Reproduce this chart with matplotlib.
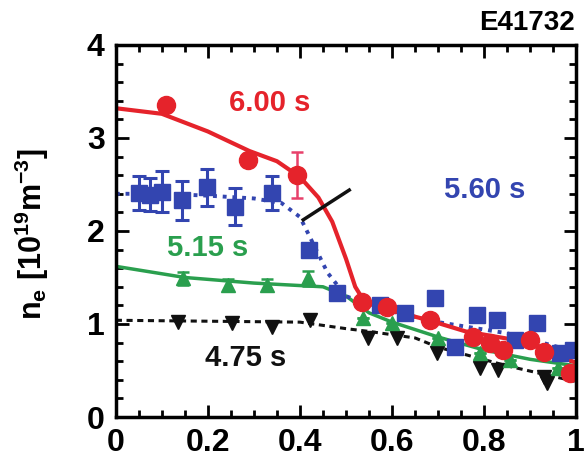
import matplotlib
matplotlib.use("Agg")
import matplotlib.pyplot as plt
from matplotlib.ticker import MultipleLocator

plt.rcParams['font.family'] = ['Liberation Sans', 'DejaVu Sans']
plt.rcParams['font.weight'] = 'bold'
plt.rcParams['mathtext.fontset'] = 'custom'
plt.rcParams['mathtext.rm'] = 'Liberation Sans:bold'
plt.rcParams['mathtext.bf'] = 'Liberation Sans:bold'

RED = '#e5232b'
BLUE = '#3345b0'
GREEN = '#2a9f4e'
BLACK = '#111111'

# 6.00 s  (circles + fit)
red_x = [0.11, 0.287, 0.393, 0.535, 0.59, 0.683, 0.776, 0.813, 0.84, 0.90, 0.93, 0.987]
red_y = [3.35, 2.76, 2.60, 1.24, 1.18, 1.04, 0.86, 0.80, 0.72, 0.83, 0.70, 0.47]
red_err = [0.06, 0.0, 0.25, 0, 0, 0, 0, 0, 0, 0, 0, 0]
red_fit_x = [0, 0.1, 0.2, 0.29, 0.35, 0.40, 0.44, 0.47, 0.50, 0.52, 0.54, 0.57, 0.68,
             0.76, 0.90, 1.0]
red_fit_y = [3.32, 3.26, 3.07, 2.86, 2.75, 2.58, 2.36, 2.10, 1.70, 1.40, 1.24, 1.18, 1.04,
             0.92, 0.80, 0.58]

# 5.60 s  (squares + dotted fit)
blue_x = [0.05, 0.075, 0.10, 0.143, 0.198, 0.259, 0.339, 0.42, 0.48, 0.574, 0.628, 0.693,
          0.737, 0.785, 0.828, 0.867, 0.915, 0.965, 0.993]
blue_y = [2.41, 2.39, 2.42, 2.33, 2.47, 2.26, 2.41, 1.80, 1.33, 1.20, 1.12, 1.28,
          0.75, 1.10, 1.04, 0.83, 1.01, 0.69, 0.72]
blue_err = [0.18, 0.18, 0.22, 0.21, 0.2, 0.2, 0.18, 0, 0, 0, 0, 0, 0, 0, 0, 0, 0, 0, 0]
blue_fit_x = [0, 0.1, 0.2, 0.3, 0.36, 0.40, 0.43, 0.46, 0.50, 0.56, 0.70, 0.85, 1.0]
blue_fit_y = [2.40, 2.40, 2.38, 2.35, 2.30, 2.15, 1.85, 1.55, 1.30, 1.18, 1.02, 0.90, 0.70]

# 5.15 s  (up triangles + solid fit)
green_x = [0.146, 0.243, 0.328, 0.418, 0.537, 0.60, 0.70, 0.79, 0.857, 0.96]
green_y = [1.49, 1.42, 1.42, 1.49, 1.06, 1.01, 0.85, 0.69, 0.61, 0.53]
green_err = [0.07, 0.06, 0.06, 0.08, 0, 0, 0, 0, 0, 0]
green_fit_x = [0, 0.15, 0.3, 0.45, 0.5, 0.55, 0.6, 0.7, 0.8, 0.9, 1.0]
green_fit_y = [1.62, 1.50, 1.44, 1.40, 1.30, 1.12, 1.02, 0.86, 0.72, 0.62, 0.55]

# 4.75 s  (down triangles + dashed fit)
black_x = [0.135, 0.252, 0.339, 0.422, 0.548, 0.61, 0.697, 0.79, 0.83, 0.93, 0.937]
black_y = [1.02, 1.01, 0.97, 1.04, 0.85, 0.85, 0.69, 0.53, 0.51, 0.43, 0.37]
black_fit_x = [0, 0.4, 0.5, 0.55, 0.65, 0.7, 0.85, 1.0]
black_fit_y = [1.04, 1.02, 0.95, 0.92, 0.85, 0.75, 0.55, 0.38]

fig = plt.figure(figsize=(5.85, 4.59), dpi=100)
ax = fig.add_axes([0.198, 0.0915, 0.787, 0.8105])

# black
ax.plot(black_fit_x, black_fit_y, color=BLACK, lw=2.2, ls=(0, (2, 1.5)))
ax.plot(black_x, black_y, 'v', color=BLACK, ms=10, mec=BLACK)
# green
ax.plot(green_fit_x, green_fit_y, color=GREEN, lw=2.5)
ax.errorbar(green_x, green_y, yerr=green_err, fmt='^', color=GREEN, ms=10,
            capsize=4, elinewidth=1.8, capthick=1.8)
# blue
ax.plot(blue_fit_x, blue_fit_y, color=BLUE, lw=2.8, ls=(0, (1, 1.5)))
ax.errorbar(blue_x, blue_y, yerr=blue_err, fmt='s', color=BLUE, ms=12,
            capsize=5, elinewidth=2.2, capthick=2.2)
# red
ax.plot(red_fit_x, red_fit_y, color=RED, lw=3, solid_joinstyle='round')
ax.errorbar(red_x, red_y, yerr=red_err, fmt='o', color=RED, ms=13,
            capsize=4, elinewidth=1.8, capthick=1.8, ecolor='#e8406a')

# labels for each time slice
ax.text(0.335, 3.38, '6.00 s', color=RED, fontsize=21, fontweight='bold', ha='center', va='center')
ax.text(0.802, 2.44, '5.60 s', color=BLUE, fontsize=21, fontweight='bold', ha='center', va='center')
ax.text(0.20, 1.82, '5.15 s', color=GREEN, fontsize=21, fontweight='bold', ha='center', va='center')
ax.text(0.283, 0.63, '4.75 s', color=BLACK, fontsize=21, fontweight='bold', ha='center', va='center')
ax.plot([0.407, 0.507], [2.12, 2.44], color=BLACK, lw=2.5)

ax.set_xlim(0, 1)
ax.set_ylim(0, 4)
ax.xaxis.set_major_locator(MultipleLocator(0.2))
ax.xaxis.set_minor_locator(MultipleLocator(0.05))
ax.yaxis.set_major_locator(MultipleLocator(1))
ax.yaxis.set_minor_locator(MultipleLocator(0.2))
ax.set_xticks([0, 0.2, 0.4, 0.6, 0.8, 1.0])
ax.set_xticklabels(['0', '0.2', '0.4', '0.6', '0.8', '1'])
ax.tick_params(which='both', direction='in', top=True, right=True, width=2, labelsize=23, pad=8)
ax.tick_params(which='major', length=9)
ax.tick_params(which='minor', length=5)
for lab in ax.get_xticklabels() + ax.get_yticklabels():
    lab.set_fontweight('bold')
for s in ax.spines.values():
    s.set_linewidth(2.5)

fig.text(0.055, 0.49, r'n$_\mathrm{e}$ [10$^\mathrm{19}$m$^\mathrm{-3}$]', rotation=90,
         fontsize=22, fontweight='bold', ha='center', va='center')
fig.text(0.983, 0.95, 'E41732', fontsize=20, fontweight='bold', ha='right', va='center')

fig.savefig('out.png', dpi=100)
